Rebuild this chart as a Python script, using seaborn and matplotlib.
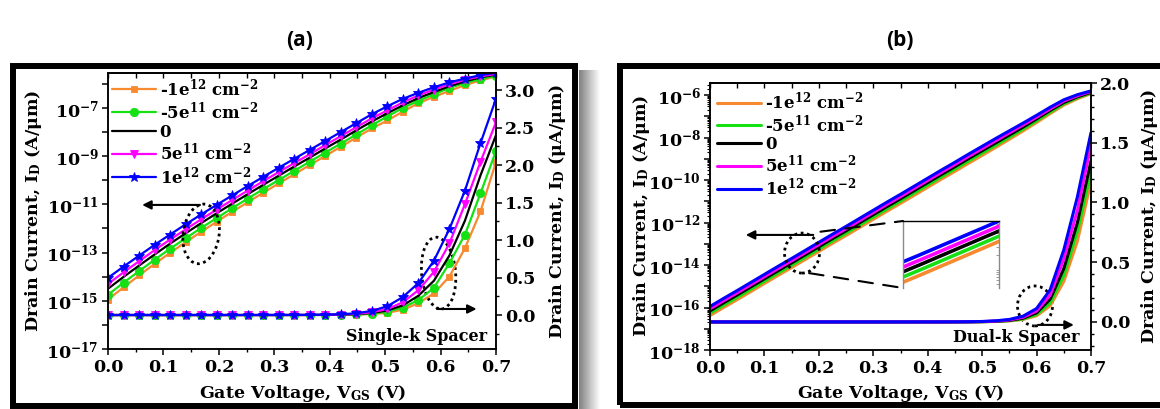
import numpy as np
import pandas as pd
import matplotlib
matplotlib.use("Agg")
import matplotlib.pyplot as plt
import seaborn as sns
from matplotlib import transforms
from matplotlib.patches import Ellipse, Rectangle, ConnectionPatch
from matplotlib.ticker import (MultipleLocator, FixedLocator, FuncFormatter,
                               NullFormatter, LogLocator, FormatStrFormatter)

# ---------------------------------------------------------------- data
# gate voltage sweep, panel (a) (marker points) and panel (b)
vgs_a = [0.000, 0.028, 0.056, 0.084, 0.112, 0.140, 0.168, 0.196, 0.224,
         0.252, 0.280, 0.308, 0.336, 0.364, 0.392, 0.420, 0.448, 0.476,
         0.504, 0.532, 0.560, 0.588, 0.616, 0.644, 0.672, 0.700]
vgs_b = [0.000, 0.025, 0.050, 0.075, 0.100, 0.125, 0.150, 0.175, 0.200,
         0.225, 0.250, 0.275, 0.300, 0.325, 0.350, 0.375, 0.400, 0.425,
         0.450, 0.475, 0.500, 0.525, 0.550, 0.575, 0.600, 0.625, 0.650,
         0.675, 0.700]

# interface charge densities
charge_labels = ["-1e$^{12}$ cm$^{-2}$", "-5e$^{11}$ cm$^{-2}$", "0",
                 "5e$^{11}$ cm$^{-2}$", "1e$^{12}$ cm$^{-2}$"]

# log10 of drain current (A/um), single-k spacer
log_id_a_m1e12 = [-14.95, -14.44, -13.95, -13.47, -13.01, -12.57, -12.14, -11.72,
                  -11.31, -10.91, -10.52, -10.13, -9.75, -9.37, -8.99, -8.61,
                  -8.23, -7.85, -7.52, -7.15, -6.80, -6.54, -6.29, -6.05, -5.86, -5.69]
log_id_a_m5e11 = [-14.75, -14.25, -13.77, -13.30, -12.84, -12.41, -11.98, -11.57,
                  -11.16, -10.76, -10.37, -9.99, -9.61, -9.23, -8.85, -8.48,
                  -8.10, -7.72, -7.35, -7.00, -6.70, -6.44, -6.16, -5.97, -5.79, -5.66]
log_id_a_zero = [-14.50, -14.01, -13.54, -13.08, -12.63, -12.20, -11.78, -11.37,
                 -10.97, -10.58, -10.19, -9.81, -9.43, -9.06, -8.68, -8.31,
                 -7.93, -7.56, -7.22, -6.89, -6.59, -6.34, -6.10, -5.90, -5.73, -5.62]
log_id_a_p5e11 = [-14.30, -13.82, -13.36, -12.90, -12.46, -12.04, -11.62, -11.22,
                  -10.82, -10.43, -10.04, -9.66, -9.29, -8.92, -8.54, -8.17,
                  -7.80, -7.43, -7.10, -6.77, -6.48, -6.24, -6.02, -5.83, -5.69, -5.59]
log_id_a_p1e12 = [-14.05, -13.58, -13.13, -12.68, -12.25, -11.83, -11.42, -11.02,
                  -10.63, -10.24, -9.86, -9.48, -9.11, -8.74, -8.37, -8.00,
                  -7.63, -7.26, -6.93, -6.62, -6.37, -6.14, -5.94, -5.78, -5.64, -5.54]

# log10 of drain current (A/um), dual-k spacer
log_id_b_m1e12 = [-16.38, -16.00, -15.63, -15.25, -14.87, -14.49, -14.12, -13.74,
                  -13.36, -12.98, -12.61, -12.23, -11.85, -11.47, -11.10, -10.72,
                  -10.34, -9.96, -9.59, -9.21, -8.84, -8.46, -8.08, -7.69, -7.29,
                  -6.87, -6.47, -6.17, -5.93]
log_id_b_m5e11 = [-16.27, -15.89, -15.52, -15.14, -14.76, -14.38, -14.01, -13.63,
                  -13.25, -12.87, -12.50, -12.12, -11.74, -11.36, -10.99, -10.61,
                  -10.23, -9.85, -9.48, -9.10, -8.73, -8.36, -7.98, -7.60, -7.21,
                  -6.80, -6.41, -6.12, -5.90]
log_id_b_zero = [-16.16, -15.78, -15.41, -15.03, -14.65, -14.27, -13.90, -13.52,
                 -13.14, -12.76, -12.39, -12.01, -11.63, -11.25, -10.88, -10.50,
                 -10.12, -9.74, -9.37, -8.99, -8.62, -8.25, -7.88, -7.51, -7.12,
                 -6.72, -6.35, -6.08, -5.87]
log_id_b_p5e11 = [-16.06, -15.68, -15.31, -14.93, -14.55, -14.17, -13.80, -13.42,
                  -13.04, -12.66, -12.29, -11.91, -11.53, -11.15, -10.78, -10.40,
                  -10.02, -9.64, -9.27, -8.89, -8.52, -8.15, -7.78, -7.41, -7.04,
                  -6.65, -6.28, -6.03, -5.83]
log_id_b_p1e12 = [-15.95, -15.57, -15.20, -14.82, -14.44, -14.06, -13.69, -13.31,
                  -12.93, -12.55, -12.18, -11.80, -11.42, -11.04, -10.67, -10.29,
                  -9.91, -9.53, -9.16, -8.78, -8.41, -8.04, -7.68, -7.32, -6.95,
                  -6.57, -6.22, -5.98, -5.80]

# ---------------------------------------------------------------- style
colors = ["#F7892F", "#14E014", "#000000", "#FF00FF", "#0000FF"]
markers = ["s", "o", None, "v", "*"]
msizes = [5.0, 6.0, 0, 6.0, 7.5]

sns.set_theme(style="ticks")
plt.rcParams.update({
    "font.family": ["DejaVu Serif"],
    "font.weight": "bold",
    "mathtext.fontset": "custom",
    "mathtext.rm": "DejaVu Serif:bold",
    "mathtext.it": "DejaVu Serif:bold",
    "mathtext.bf": "DejaVu Serif:bold",
    "mathtext.sf": "DejaVu Serif:bold",
    "axes.edgecolor": "black",
    "axes.labelcolor": "black",
    "text.color": "black",
    "xtick.color": "black",
    "ytick.color": "black",
    "axes.linewidth": 1.1,
})

W, H = 1160, 409
fig = plt.figure(figsize=(W / 100, H / 100), dpi=100)
fig.patch.set_facecolor("white")


def fx(px):
    return px / W


def fy(py):
    return 1 - py / H


def frac_box(l, t, r, b):
    return [fx(l), fy(b), fx(r) - fx(l), fy(t) - fy(b)]


TICK = 12.5
LAB = 12.5
LEG = 12

# drop shadow and black frames around each panel
sh = fig.add_axes(frac_box(579, 70, 600, 409), zorder=-5)
sh.imshow(np.linspace(0.50, 1.0, 64)[None, :], cmap="gray", vmin=0, vmax=1,
          aspect="auto")
sh.axis("off")
for l, t, r, b in [(13, 66, 575, 406), (620, 66, 1170, 405)]:
    fig.add_artist(Rectangle((fx(l), fy(b)), fx(r) - fx(l), fy(t) - fy(b),
                             transform=fig.transFigure, fill=False,
                             lw=4.3, ec="black", zorder=1))


def style_x(ax):
    ax.set_xlim(0.0, 0.7)
    ax.xaxis.set_major_locator(MultipleLocator(0.1))
    ax.xaxis.set_minor_locator(MultipleLocator(0.05))
    ax.xaxis.set_major_formatter(FormatStrFormatter("%.1f"))
    ax.tick_params(axis="x", which="major", direction="out", length=4.5,
                   width=1.1, labelsize=TICK, pad=2.5)
    ax.tick_params(axis="x", which="minor", direction="out", length=2.5,
                   width=1.0)
    top = ax.secondary_xaxis("top")
    top.xaxis.set_major_locator(MultipleLocator(0.05))
    top.tick_params(axis="x", which="both", direction="in", length=3.5,
                    width=1.0, labeltop=False)
    ax.set_xlabel("")


def dotted_ellipse(ax, cx, cy, w_px, h_px, ang):
    tr = fig.dpi_scale_trans + transforms.ScaledTranslation(cx, cy, ax.transAxes)
    ax.add_artist(Ellipse((0, 0), w_px / 100, h_px / 100, angle=ang,
                          transform=tr, fill=False, ec="black", lw=2.0,
                          ls=(0, (1, 1.3)), clip_on=False, zorder=6))


def arrow(ax, start, end):
    ax.annotate("", xy=end, xytext=start, xycoords="axes fraction",
                textcoords="axes fraction",
                arrowprops=dict(arrowstyle="-|>", color="black", lw=1.5,
                                mutation_scale=13, shrinkA=0, shrinkB=0),
                zorder=7)


# ---------------------------------------------------------------- panel (a)
ax_a = fig.add_axes(frac_box(108, 73, 496, 349))
ax_a.set_yscale("log")
ax_a2 = ax_a.twinx()

logs_a = [log_id_a_m1e12, log_id_a_m5e11, log_id_a_zero, log_id_a_p5e11,
          log_id_a_p1e12]
for lab, col, mk, ms, lg in zip(charge_labels, colors, markers, msizes, logs_a):
    cur = np.power(10.0, np.array(lg))
    df = pd.DataFrame({"vgs": vgs_a, "id": cur, "id_ua": cur * 1e6})
    kw = dict(color=col, linewidth=1.6)
    if mk is not None:
        kw.update(marker=mk, markersize=ms, markeredgecolor=col,
                  markeredgewidth=0.6)
    sns.lineplot(data=df, x="vgs", y="id", ax=ax_a, label=lab, **kw)
    sns.lineplot(data=df, x="vgs", y="id_ua", ax=ax_a2, **kw)

ax_a.set_ylim(1e-17, 10 ** -5.55)
ax_a.yaxis.set_major_locator(LogLocator(base=10, numticks=30))
ax_a.yaxis.set_minor_locator(FixedLocator([]))
ax_a.yaxis.set_major_formatter(FuncFormatter(
    lambda v, p: r"$10^{%d}$" % round(np.log10(v)) if round(np.log10(v)) % 2 else ""))
ax_a.tick_params(axis="y", which="major", direction="out", length=4.5,
                 width=1.1, labelsize=TICK, pad=2)
ax_a.set_ylabel("")
style_x(ax_a)

ax_a2.set_ylim(-0.453, 3.227)
ax_a2.yaxis.set_major_locator(MultipleLocator(0.5))
ax_a2.yaxis.set_minor_locator(MultipleLocator(0.25))
ax_a2.yaxis.set_major_formatter(FormatStrFormatter("%.1f"))
ax_a2.tick_params(axis="y", which="major", direction="out", length=4.5,
                  width=1.1, labelsize=TICK, pad=2)
ax_a2.tick_params(axis="y", which="minor", direction="out", length=2.5,
                  width=1.0)
ax_a2.set_ylabel("")
ax_a2.set_xlabel("")

leg = ax_a.legend(handles=ax_a.get_lines(), labels=charge_labels,
                  loc="upper left", frameon=False, fontsize=LEG,
                  handlelength=2.6, handletextpad=0.25, labelspacing=0.08,
                  borderaxespad=0.2, borderpad=0.05, numpoints=1)

dotted_ellipse(ax_a, 0.240, 0.417, 36, 60, -8)
arrow(ax_a, (0.237, 0.522), (0.088, 0.522))
dotted_ellipse(ax_a, 0.852, 0.275, 34, 72, 5)
arrow(ax_a, (0.848, 0.145), (0.950, 0.145))
ax_a.text(0.977, 0.047, "Single-k Spacer", transform=ax_a.transAxes,
          ha="right", va="center", fontsize=11.5, fontweight="bold")

fig.text(fx(34), fy(211), "Drain Current, I$_\\mathrm{D}$ (A/\u03bcm)",
         rotation=90, ha="center", va="center", fontsize=LAB)
fig.text(fx(557), fy(211), "Drain Current, I$_\\mathrm{D}$ (\u03bcA/\u03bcm)",
         rotation=90, ha="center", va="center", fontsize=LAB)
fig.text(fx(302), fy(393), "Gate Voltage, V$_\\mathrm{GS}$ (V)",
         ha="center", va="center", fontsize=LAB)

# ---------------------------------------------------------------- panel (b)
ax_b = fig.add_axes(frac_box(710, 83, 1091, 350))
ax_b.set_yscale("log")
ax_b2 = ax_b.twinx()

logs_b = [log_id_b_m1e12, log_id_b_m5e11, log_id_b_zero, log_id_b_p5e11,
          log_id_b_p1e12]
for lab, col, lg in zip(charge_labels, colors, logs_b):
    cur = np.power(10.0, np.array(lg))
    df = pd.DataFrame({"vgs": vgs_b, "id": cur, "id_ua": cur * 1e6})
    sns.lineplot(data=df, x="vgs", y="id", ax=ax_b, color=col, linewidth=2.2,
                 label=lab)
    sns.lineplot(data=df, x="vgs", y="id_ua", ax=ax_b2, color=col,
                 linewidth=2.2)

ax_b.set_ylim(1e-18, 10 ** -5.43)
ax_b.yaxis.set_major_locator(LogLocator(base=10, numticks=30))
ax_b.yaxis.set_minor_locator(LogLocator(base=10, subs=np.arange(2, 10), numticks=30))
ax_b.yaxis.set_minor_formatter(NullFormatter())
ax_b.yaxis.set_major_formatter(FuncFormatter(
    lambda v, p: "" if round(np.log10(v)) % 2 else r"$10^{%d}$" % round(np.log10(v))))
ax_b.tick_params(axis="y", which="major", direction="out", length=4.5,
                 width=1.1, labelsize=TICK, pad=2)
ax_b.tick_params(axis="y", which="minor", direction="out", length=2.2,
                 width=0.8)
ax_b.set_ylabel("")
style_x(ax_b)

ax_b2.set_ylim(-0.235, 2.0)
ax_b2.yaxis.set_major_locator(MultipleLocator(0.5))
ax_b2.yaxis.set_minor_locator(MultipleLocator(0.1))
ax_b2.yaxis.set_major_formatter(FormatStrFormatter("%.1f"))
ax_b2.tick_params(axis="y", which="major", direction="out", length=4.5,
                  width=1.1, labelsize=TICK, pad=2)
ax_b2.tick_params(axis="y", which="minor", direction="out", length=2.5,
                  width=1.0)
ax_b2.set_ylabel("")
ax_b2.set_xlabel("")

ax_b.legend(handles=ax_b.get_lines(), labels=charge_labels,
            loc="upper left", frameon=False, fontsize=LEG,
            handlelength=2.6, handletextpad=0.25, labelspacing=0.05,
            borderaxespad=0.2, borderpad=0.25)

# magnified view of the subthreshold lines
ins = fig.add_axes(frac_box(903, 221, 999, 288))
ins.set_yscale("log")
for col, lg in zip(colors, logs_b):
    sns.lineplot(x=vgs_b, y=np.power(10.0, np.array(lg)), ax=ins, color=col,
                 linewidth=2.6)
ins.set_xlim(0.14, 0.197)
ins.set_ylim(10 ** -14.39, 10 ** -12.975)
ins.spines["bottom"].set_visible(False)
ins.spines["top"].set_color("black")
ins.spines["top"].set_linewidth(1.0)
for s in ("left", "right"):
    ins.spines[s].set_color("#8a8a8a")
    ins.spines[s].set_linewidth(1.0)
ins.tick_params(left=False, bottom=False, labelleft=False, labelbottom=False)
ins.yaxis.set_ticks_position("right")
ins.yaxis.set_minor_locator(LogLocator(base=10, subs=np.arange(2, 10), numticks=30))
ins.yaxis.set_minor_formatter(NullFormatter())
ins.tick_params(axis="y", which="both", direction="in", length=2, width=0.6,
                color="#8a8a8a", labelright=False)
ins.set_xlabel("")
ins.set_ylabel("")

for xyA, xyB in [((0.290, 0.443), (0.0, 1.0)), ((0.260, 0.288), (0.0, 0.0))]:
    fig.add_artist(ConnectionPatch(xyA=xyA, coordsA=ax_b.transAxes,
                                   xyB=xyB, coordsB=ins.transAxes,
                                   color="black", lw=1.5, ls=(0, (7, 5))))

dotted_ellipse(ax_b, 0.2415, 0.363, 35, 40, 0)
arrow(ax_b, (0.271, 0.431), (0.094, 0.431))
dotted_ellipse(ax_b, 0.853, 0.165, 35, 40, 0)
arrow(ax_b, (0.861, 0.094), (0.955, 0.094))
ax_b.text(0.971, 0.045, "Dual-k Spacer", transform=ax_b.transAxes,
          ha="right", va="center", fontsize=11.5, fontweight="bold")

fig.text(fx(641), fy(216), "Drain Current, I$_\\mathrm{D}$ (A/\u03bcm)",
         rotation=90, ha="center", va="center", fontsize=LAB)
fig.text(fx(1150), fy(216), "Drain Current, I$_\\mathrm{D}$ (\u03bcA/\u03bcm)",
         rotation=90, ha="center", va="center", fontsize=LAB)
fig.text(fx(900), fy(393), "Gate Voltage, V$_\\mathrm{GS}$ (V)",
         ha="center", va="center", fontsize=LAB)

# panel titles
fig.text(fx(300), fy(40), "(a)", ha="center", va="center", fontsize=15,
         family="Open Sans", fontweight="bold")
fig.text(fx(900), fy(40), "(b)", ha="center", va="center", fontsize=15,
         family="Open Sans", fontweight="bold")

fig.savefig("out.png", dpi=100, facecolor="white")
